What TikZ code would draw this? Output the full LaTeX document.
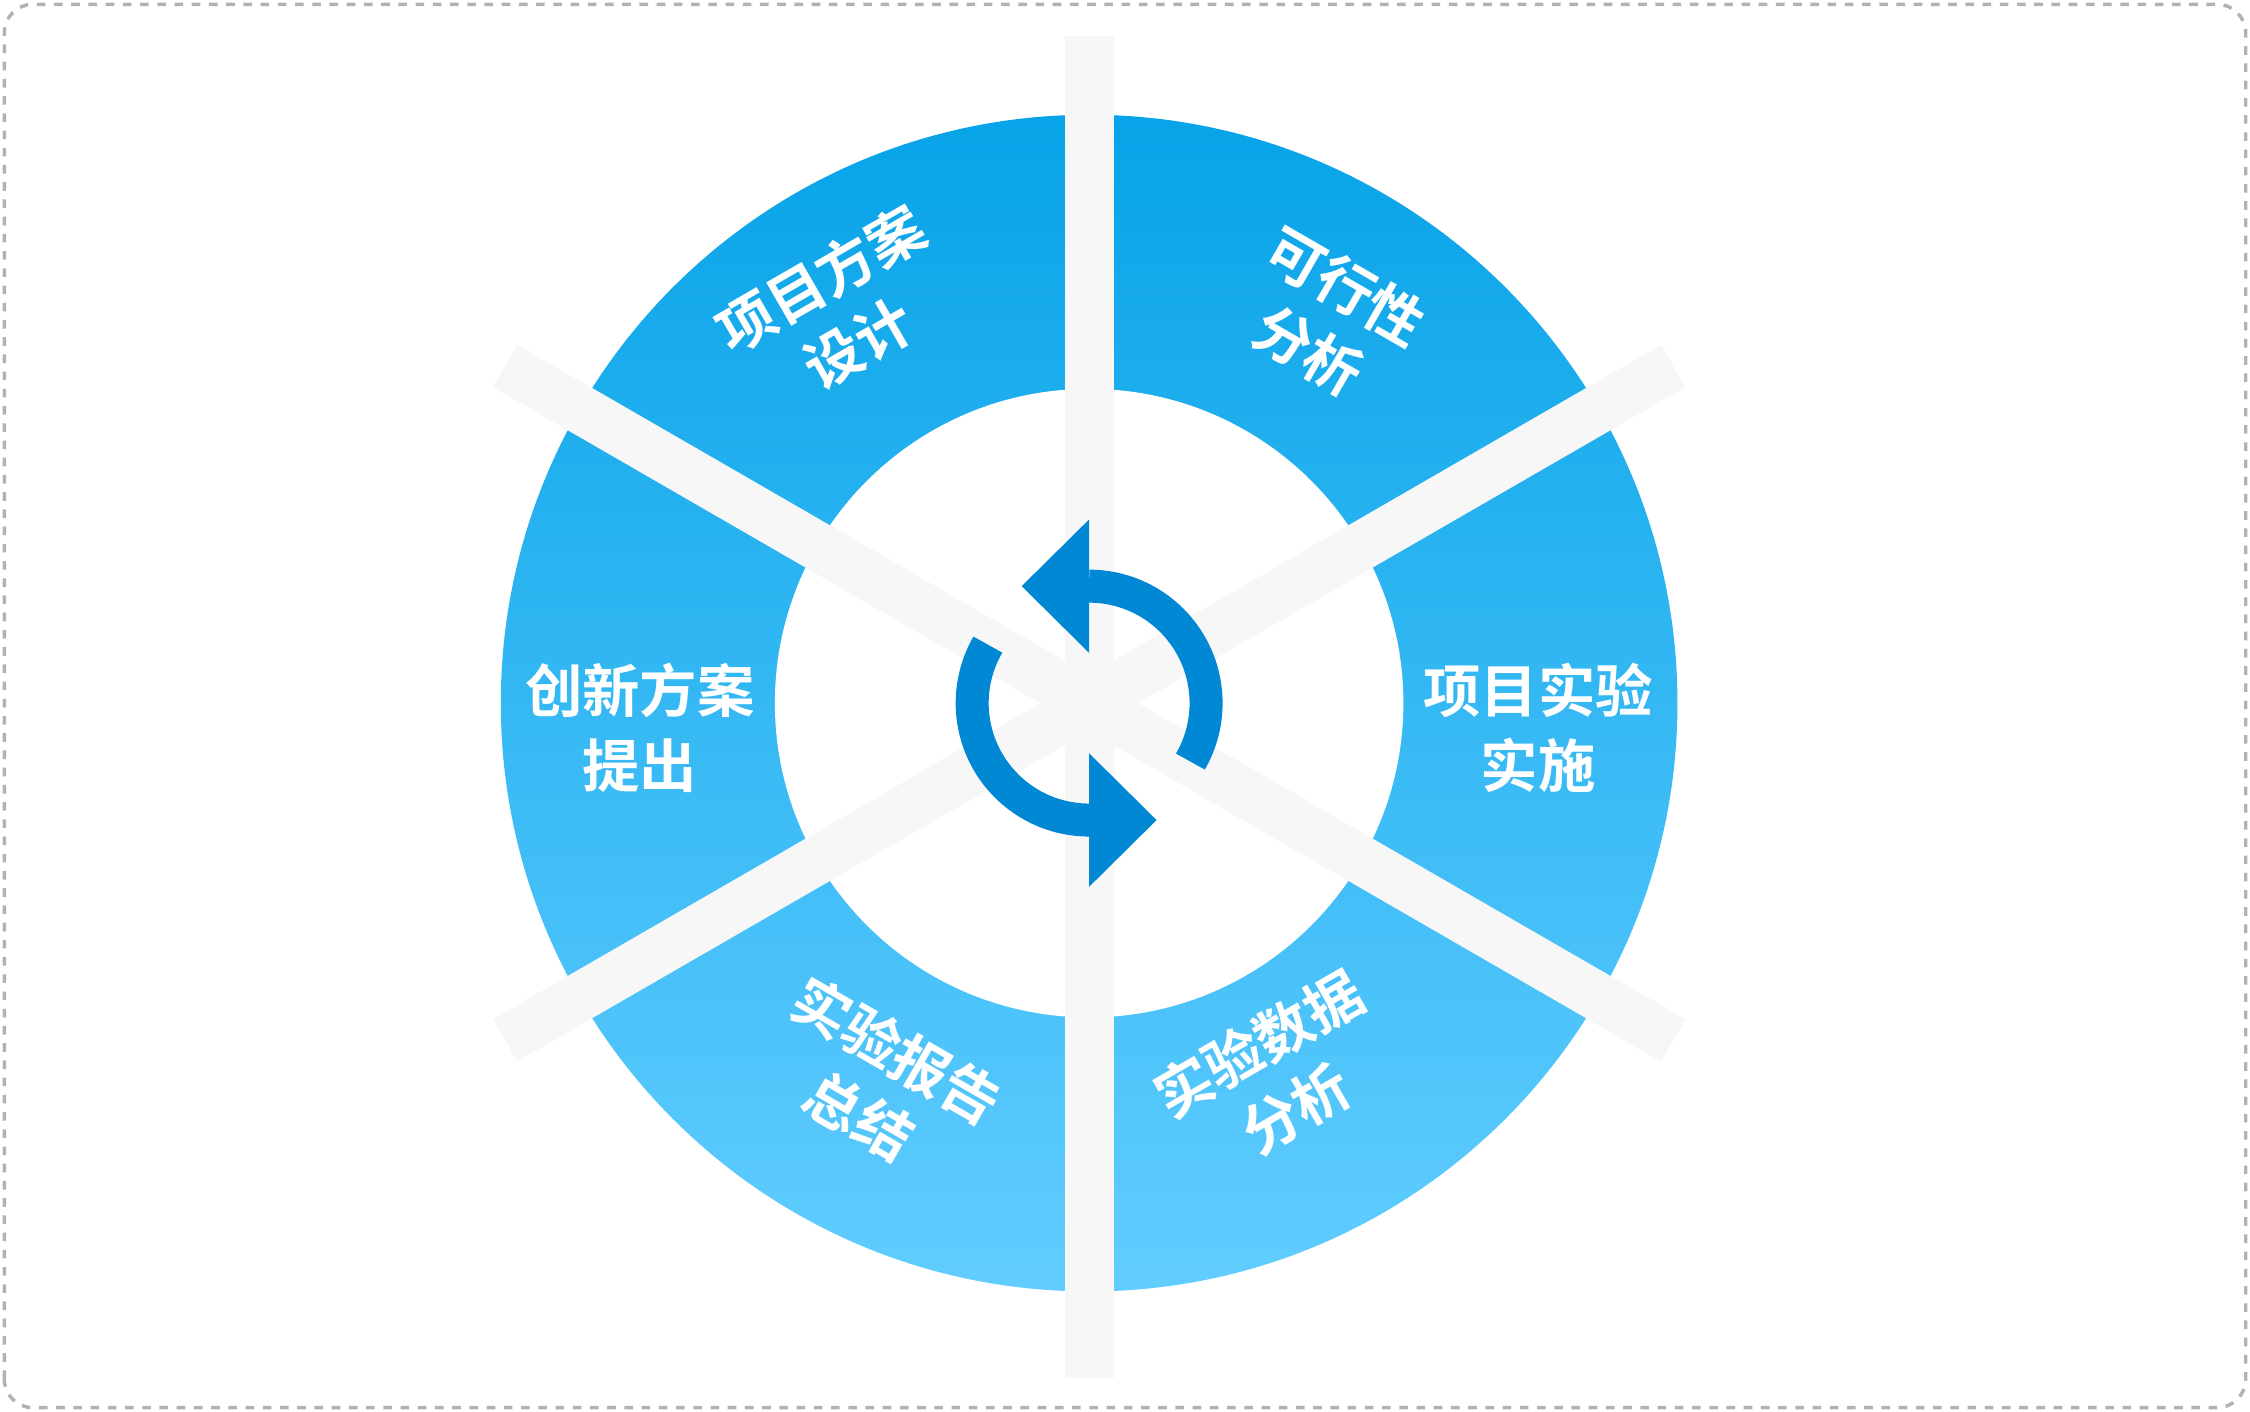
\documentclass[tikz,border=0pt]{standalone}
\usepackage{fontspec}
\usetikzlibrary{calc}
\newfontfamily\cjk{Noto Sans CJK SC Bold}
\begin{document}
\begin{tikzpicture}[x=0.5pt,y=0.5pt,
  lbl/.style={text=white,font=\cjk\fontsize{20pt}{26pt}\selectfont,align=center},
  bar/.style={fill=black!3,draw=none},
  icon/.style={draw=arrblue,line width=11.5pt}]
\definecolor{arrblue}{HTML}{0088D4}
\useasboundingbox (0,0) rectangle (1568,984);
\draw[gray!60,dashed,line width=1.2pt,rounded corners=10pt] (3,3) rectangle (1565,981);
\coordinate (c) at (759,494);
\shade[top color={rgb,255:red,7;green,163;blue,232},bottom color={rgb,255:red,98;green,205;blue,255}] (c) circle (410);
\fill[white] (c) circle (219);
\fill[bar] ($(c)+(-17,-470)$) rectangle ($(c)+(17,465)$);
\foreach \a in {30,-30}{
  \fill[bar,rotate around={\a:(c)}] ($(c)+(-470,-17)$) rectangle ($(c)+(470,17)$);
}
\draw[icon] ([shift={(90:81.5)}]c) arc[start angle=90,end angle=-30,radius=81.5];
\draw[icon] ([shift={(270:81.5)}]c) arc[start angle=270,end angle=150,radius=81.5];
\fill[arrblue] ($(c)+(0,128)$) -- ($(c)+(0,35)$) -- ($(c)+(-47,81.5)$) -- cycle;
\fill[arrblue] ($(c)+(0,-35)$) -- ($(c)+(0,-128)$) -- ($(c)+(47,-81.5)$) -- cycle;
\node[lbl,rotate=30] (t1) at (585,767) {项目方案\\设计};
\node[lbl,rotate=-30] (t2) at (925,762) {可行性\\分析};
\node[lbl] (t3) at (1072,477) {项目实验\\实施};
\node[lbl,rotate=30] (t4) at (890,234) {实验数据\\分析};
\node[lbl,rotate=-30] (t5) at (612,229) {实验报告\\总结};
\node[lbl] (t6) at (446,477) {创新方案\\提出};
\end{tikzpicture}
\end{document}
